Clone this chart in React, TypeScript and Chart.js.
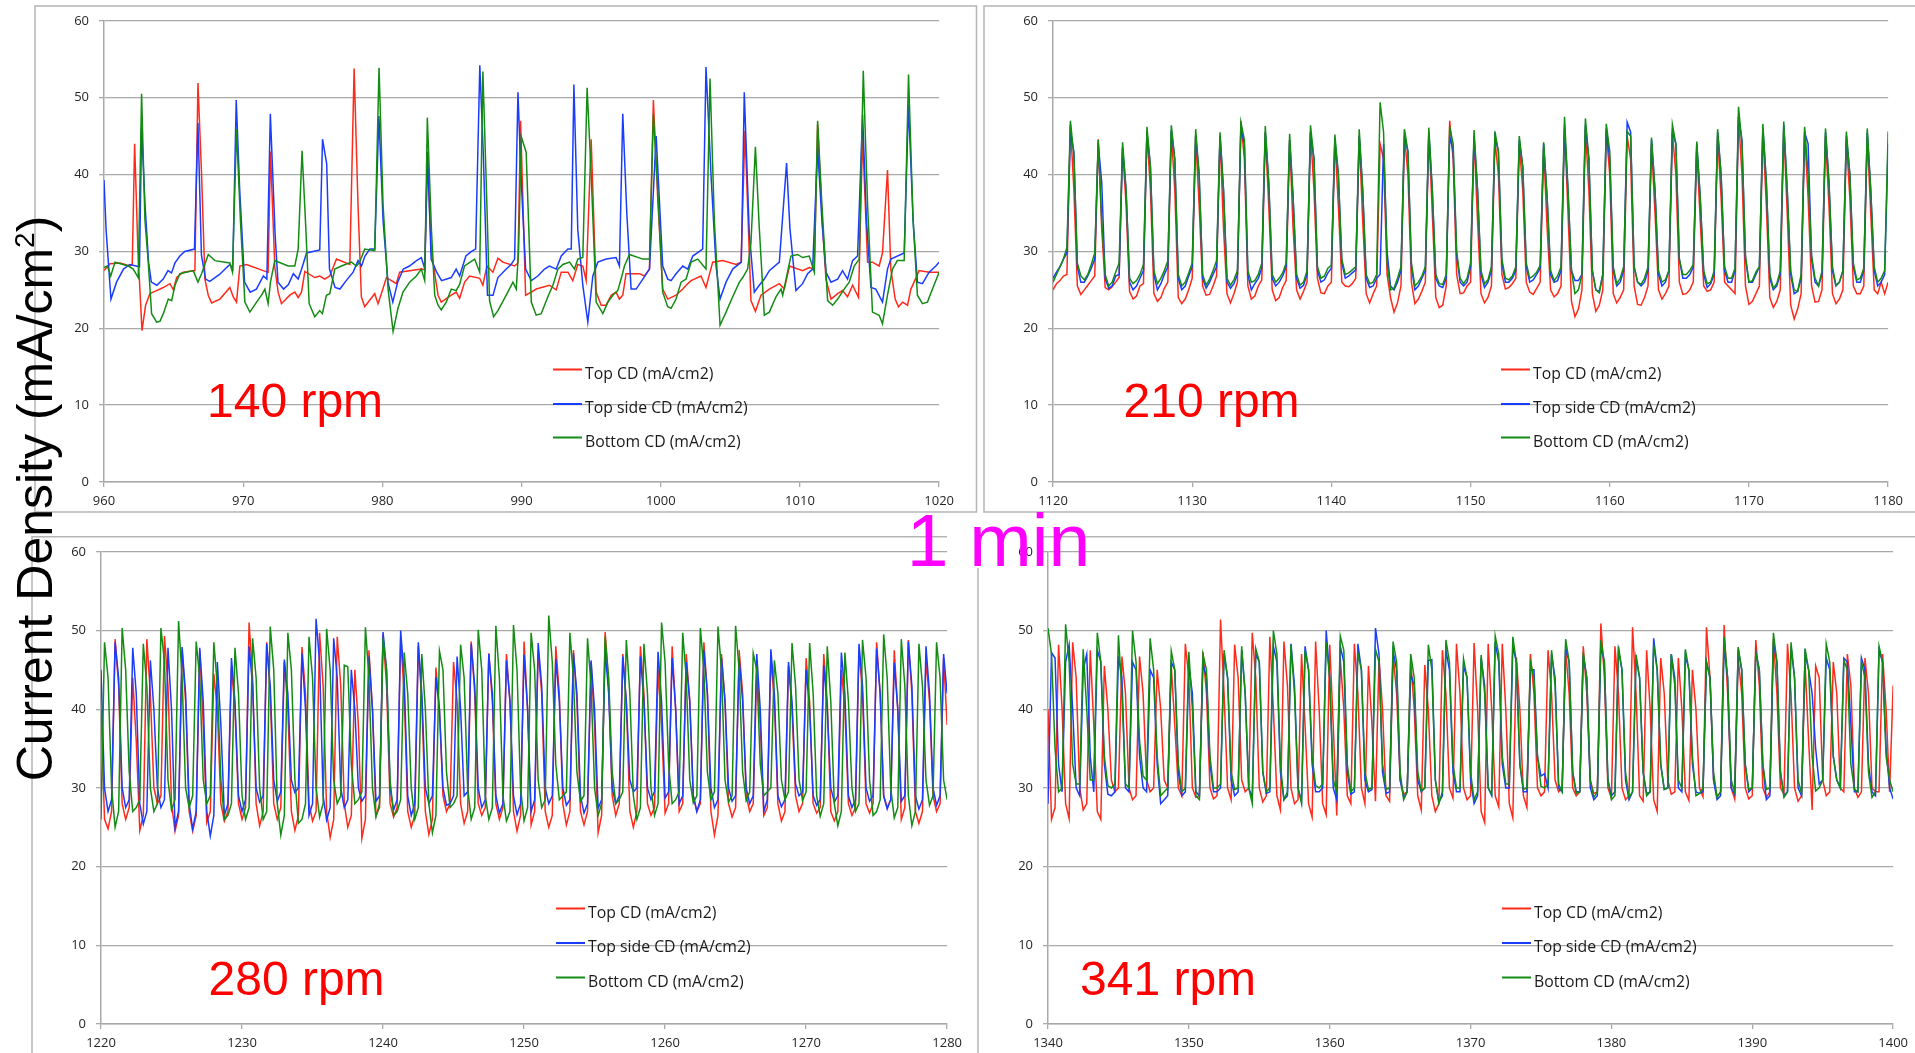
import React, { useEffect, useRef } from "react";
import { Chart, registerables } from "chart.js";

Chart.register(...registerables);
Chart.defaults.font.family = "'Open Sans', sans-serif";

// ------------------------------------------------------------------ data
const seriesNames = ["Top CD (mA/cm2)", "Top side CD (mA/cm2)", "Bottom CD (mA/cm2)"];
const speedLabels = ["140 rpm", "210 rpm", "280 rpm", "341 rpm"];
const timeRanges = [[960, 1020], [1120, 1180], [1220, 1280], [1340, 1400]];
const yRange = [0, 60];
const tickStep = 10;
const noteLabel = "1 min";
const yTitleMain = "Current Density (mA/cm";
const yTitleSup = "2";
const yTitleEnd = ")";

// Panel 1 (140 rpm): [time s, current density] vertices
const p1Top = [[960,27.5],[960.43,28.4],[961.15,28.5],[961.87,28.1],[962.03,28.3],[962.2,44],[962.44,30],[962.73,19.7],[962.99,23],[963.3,24.5],[963.78,24.9],[964.26,25.3],[964.74,25.8],[964.98,25],[965.22,26.6],[965.69,27.3],[966.53,27.5],[966.75,51.9],[967.01,40],[967.25,26.4],[967.49,24.3],[967.73,23.3],[968.33,23.8],[969.04,25.3],[969.28,24.1],[969.52,23.4],[969.76,28.1],[970.24,28.3],[971.44,27.5],[971.79,27.3],[971.96,43],[972.27,28],[972.51,24.7],[972.75,23.2],[973.35,24.3],[973.71,24.7],[973.95,24],[974.19,24.7],[974.43,27.4],[975.14,26.6],[975.5,26.8],[975.86,26.4],[976.22,26.8],[976.7,29],[977.66,28.3],[977.97,53.8],[978.25,36],[978.49,24.1],[978.73,22.8],[979.45,24.5],[979.69,23.2],[980,24.9],[980.29,26.6],[981,25.8],[981.24,27.3],[982.8,27.7],[983.04,27.6],[983.23,42],[983.52,30],[984,24.3],[984.23,23.4],[984.95,24.3],[985.31,24.7],[985.55,23.9],[985.91,26],[986.27,26.8],[986.99,26.5],[987.22,25.6],[987.51,28.1],[987.94,27.3],[988.3,29.1],[988.66,28.6],[989.5,28.1],[989.74,28.5],[989.93,47],[990.29,24.3],[990.7,24.7],[991.05,25.1],[992,25.6],[992.49,25],[992.85,27.3],[993.33,27.3],[993.68,26.2],[994.04,28.3],[994.4,28.1],[994.64,26.2],[995,44.6],[995.36,24.7],[995.72,23],[996.08,23],[996.44,24.3],[996.79,24.7],[997.03,23.8],[997.27,24.3],[997.51,27.1],[998.47,27.1],[998.83,26.8],[999.19,27.7],[999.47,49.7],[999.78,37],[1000.14,25.1],[1000.5,23.8],[1001.1,24.3],[1001.58,25.1],[1001.82,25.6],[1002.18,26.2],[1002.89,26.8],[1003.25,25.3],[1003.73,28.6],[1004.45,28.8],[1005.41,28.3],[1005.77,28.6],[1006.05,45.7],[1006.48,23.6],[1006.8,22.2],[1007.2,24.3],[1007.8,25.1],[1008.52,25.8],[1008.88,25.1],[1009.25,28.1],[1010.19,27.5],[1010.67,27.9],[1011.03,27.7],[1011.27,46.5],[1011.63,33],[1011.87,26.4],[1012.23,23.8],[1012.71,24.5],[1013.06,24.9],[1013.42,24.1],[1013.78,25.6],[1014.21,24],[1014.5,45],[1014.86,28.6],[1015.21,28.6],[1015.69,28.1],[1015.93,29.8],[1016.29,40.6],[1016.53,27.7],[1016.84,23.8],[1017.08,22.8],[1017.37,23.4],[1017.73,23],[1017.97,25.1],[1018.2,26],[1018.56,27.5],[1019.28,27.3],[1020,27.3]];
const p1Side = [[960,39.3],[960.15,32.8],[960.5,23.8],[960.9,26],[961.4,27.7],[961.85,28.3],[962.55,28],[962.7,46.1],[962.95,36],[963.2,28.6],[963.4,26],[963.8,25.6],[964.25,26.4],[964.6,27.5],[964.85,27.2],[965.1,28.5],[965.45,29.4],[965.8,30],[966.5,30.3],[966.75,46.7],[967,29.5],[967.3,26.4],[967.6,26.1],[968.3,27],[968.7,27.7],[969.05,28.3],[969.25,27.7],[969.5,49.7],[969.75,38],[970.1,26],[970.5,24.7],[970.95,25.1],[971.45,26.8],[971.7,26.4],[971.95,47.9],[972.3,32],[972.5,26],[972.9,25.1],[973.25,25.7],[973.6,27.1],[973.95,26.4],[974.2,27.7],[974.55,29.8],[975.5,30.2],[975.7,44.6],[976,41.4],[976.2,27.7],[976.6,25.3],[976.95,25.1],[977.4,26.2],[977.9,27.3],[978.25,28.8],[978.5,28.1],[978.75,29.4],[979.1,30.3],[979.45,30.3],[979.75,47.6],[980.05,34],[980.4,26],[980.75,23.4],[981.1,26],[981.5,27.7],[981.95,28.1],[982.45,28.8],[982.8,29.2],[983.05,27.7],[983.25,43],[983.5,29],[983.9,27.3],[984.25,26.2],[984.95,26.6],[985.3,27.7],[985.55,26.8],[986,29.4],[986.4,30],[986.7,30.3],[987,54.2],[987.25,42.7],[987.55,24.3],[987.95,24.3],[988.3,26.6],[988.9,27.7],[989.25,28.3],[989.5,29],[989.74,50.7],[989.98,39],[990.29,27.7],[990.7,26.2],[991.17,26.8],[991.65,27.7],[992,28.1],[992.49,27.7],[992.85,29.4],[993.33,30.3],[993.57,30.3],[993.76,51.7],[994.04,32.8],[994.4,25.6],[994.76,20.8],[995.12,26.8],[995.48,28.6],[996.08,29],[996.79,29.2],[997.03,28.1],[997.27,47.9],[997.56,35],[997.87,25.1],[998.23,25.1],[998.71,26.4],[999.19,27.7],[999.67,45],[1000.14,28.1],[1000.5,26.4],[1000.74,26.2],[1001.1,27.1],[1001.58,28.1],[1001.94,27.7],[1002.3,29.4],[1003.01,30.3],[1003.25,54],[1003.61,40],[1003.97,28.1],[1004.26,23.8],[1004.69,26],[1005.17,27.7],[1005.79,28.6],[1006,50.7],[1006.36,32.4],[1006.72,24.7],[1007.08,25.6],[1007.44,26.4],[1007.8,27.5],[1008.52,28.6],[1009.04,41.5],[1009.28,33],[1009.71,24.9],[1010.19,25.8],[1010.55,27.1],[1010.91,27.7],[1011.27,43.5],[1011.58,34],[1011.87,27.3],[1012.23,26],[1012.71,26.4],[1013.06,27.5],[1013.42,26.4],[1013.78,28.8],[1014.14,29.4],[1014.5,47.8],[1014.78,34],[1015.1,25.3],[1015.45,25.1],[1015.93,23.4],[1016.29,27.7],[1016.53,29],[1017.49,29.8],[1017.8,49.1],[1018.13,34],[1018.44,26],[1018.8,25.8],[1019.28,27.3],[1019.76,28.1],[1020,28.6]];
const p1Bottom = [[960,27.9],[960.24,28.1],[960.48,26.8],[960.79,28.6],[961.75,28.1],[962.1,27.7],[962.46,26.6],[962.7,50.5],[962.94,34.1],[963.18,28.6],[963.42,21.9],[963.78,20.8],[964.02,20.9],[964.26,21.9],[964.62,23.8],[964.86,23.6],[965.1,25.6],[965.45,27.1],[966.41,27.5],[966.75,26],[967.01,27.1],[967.49,29.6],[967.97,28.8],[969.04,28.5],[969.23,27.3],[969.52,45.9],[969.81,33.7],[970.12,23.4],[970.48,22.1],[970.96,23.4],[971.32,24.3],[971.56,25.1],[971.79,23.2],[971.96,26],[972.27,28.8],[973.23,28.1],[973.71,28.1],[973.95,30.3],[974.23,43.1],[974.5,33],[974.74,23.2],[975.14,21.5],[975.5,22.3],[975.69,21.9],[975.98,24.3],[976.22,24.5],[976.58,27.7],[977.06,28.1],[977.78,28.6],[978.13,28.1],[978.37,28.6],[978.73,30.3],[979.45,30.1],[979.76,53.9],[980.05,36],[980.41,25.1],[980.77,19.6],[981.12,22.6],[981.48,24.7],[981.96,26],[982.44,26.8],[982.8,27.7],[983.04,26.2],[983.23,47.4],[983.52,33],[983.76,24.3],[984,23],[984.23,22.4],[984.59,23.4],[984.95,25.1],[985.3,24.9],[985.55,25.7],[985.9,28.1],[986.63,29],[986.99,27.3],[987.22,53.4],[987.51,36],[987.7,23.6],[987.99,21.5],[988.3,22.3],[988.9,24.3],[989.38,26],[989.62,25.1],[989.78,30],[989.98,44.9],[990.33,42.9],[990.7,23.4],[991.05,21.7],[991.41,21.9],[991.89,24.1],[992.25,25.6],[992.61,27.7],[992.97,28.3],[993.45,28.6],[993.8,27.7],[994.04,29],[994.4,29.2],[994.71,51.3],[995,40],[995.36,23.4],[995.84,21.9],[996.2,23.4],[996.56,24.3],[996.91,24.9],[997.15,26.4],[997.39,28.1],[997.75,29.6],[998.71,29],[999.19,29],[999.47,47.8],[999.78,38],[1000.14,24.7],[1000.5,22.8],[1000.74,22.6],[1001.1,23.8],[1001.46,26],[1001.82,26.4],[1002.18,28.6],[1002.66,29],[1003.25,27.7],[1003.54,52.5],[1003.85,34],[1004.26,20.4],[1004.69,22.1],[1005.17,24.1],[1005.65,26],[1005.89,26.6],[1006.24,27.7],[1006.48,31.1],[1006.8,43.6],[1007.08,33],[1007.44,21.7],[1007.8,22.1],[1008.28,24.1],[1008.64,25.1],[1008.76,24.3],[1009.11,27.3],[1009.35,29.4],[1009.83,29.6],[1010.19,29.2],[1010.67,29.4],[1011.03,27.3],[1011.27,47],[1011.58,36],[1011.99,23.6],[1012.35,23],[1012.71,23.8],[1013.18,25.1],[1013.54,26],[1013.9,28.1],[1014.26,29],[1014.55,53.5],[1014.86,36],[1015.21,22.1],[1015.69,21.7],[1015.93,20.6],[1016.29,24.3],[1016.65,27.7],[1017,28.8],[1017.49,28.8],[1017.8,53],[1018.13,34],[1018.44,24.3],[1018.8,23.2],[1019.16,23.4],[1019.52,25.1],[1020,27.3]];

// Panels 2-4: values sampled evenly across the 60 s window (one value every ~0.25 s)
const p2Top = [25,25.8,26.2,26.8,27,
46.5,38,25.5,24.4,25,25.6,26.2,26.8,
44.6,33,25.3,25,25.4,26,26.6,
43.5,36,24.8,23.8,24.2,25.5,25.8,
45.5,38,24.5,23.5,24,25.2,26,
45.5,38,24,23.2,23.8,25,26.5,
45,36,25.5,24.3,24.4,25.5,26.8,
45,33,24.5,23.3,24.5,26,
47,42,25.5,23.8,24.2,25.5,26.3,
45.5,36,25,23.6,24,25.3,26.2,
44.5,33,25,23.8,24.8,26,
45.5,38,26.5,24.6,24.5,25.5,26,
44.5,36,26,25.5,25.4,25.8,26.5,
45,34,24.5,23.3,24.5,25.5,
44,42,27,24,22.1,23.3,25.5,
45,40,26,23.2,23.8,24.8,26,
45.5,35,24,22.7,23,25.5,
47,42,27,24.5,24.6,25.5,26,
45,34,24.5,23.3,24,25.5,
44.5,40,27,25.1,25.3,25.8,26.5,
44,38,26,24.7,24.4,25.2,26,
43.5,33,25,24.1,24.5,25.5,
46.5,35,23.5,21.5,22.5,25,
46,38,24.5,22.2,23,25,
45.5,40,24.5,23.3,24,25,
45,42,25.5,23.1,23,24,25.5,
44,35,25,23.8,24.5,25.5,
45.5,40,26,24.4,24.5,25,26,
43.5,34,25.5,24.8,25,26,
45,37,26,25.5,25,24.5,
47.5,40,25.5,23.1,23.5,24.5,25.5,
45.5,36,24,22.7,23.5,25,
46,35,23,21.2,22.5,24.5,
45.5,37,25.5,23.4,23.5,25,
45,36,24.5,23.2,23.8,25,
44.5,37,25.5,24.5,24.5,25.5,
45,35,25,24.5,26,24.5,
26];
const p2Side = [26.5,27.3,28,29,29.8,
45.5,43,28,26,26,26.8,27.8,29,
44,39,26.5,25.2,25.5,26.8,27,
43.5,38,26,25,25.5,26.5,27.5,
45.5,41,27,25,25.8,27,28,
45.8,42,26.5,25,25.5,26.8,28,
45,40,26.5,25.2,26,27,28,
45,38,26,25.2,25.8,27,
46,44,27,25,25.8,26.5,27.8,
45.5,39,26.5,25.5,26,26.8,28,
44.5,37,26.5,25.2,25.6,27,
45.5,42,27.5,26,26.3,27.2,27.8,
44.5,40,28.5,26.5,26.8,27.2,27.6,
45,38,26.5,25.3,25.5,26.5,
27,44,30,25.5,25,26,27.5,
45,43,28,25,25.5,26.5,27.5,
45.5,38,26.5,25.5,25.3,26.5,
45,43,29.5,26,25.5,26,28,
45,38,27,25.3,26,27.5,
45,43,28.5,26,26,26.5,27.5,
44.5,41,28,26,26.3,27,27.8,
44,37,27,26,26.2,27.5,
46,38,27.5,26.2,26.2,27,
46.5,42,27.5,25,24.8,27,
46,42,27.5,25.5,26,27.5,
46.8,45.5,28,26,25.5,26,27.5,
44.5,38,27,25.5,26,27.5,
45.5,44,29,26.5,26.5,27,28,
44,37,27,25.3,25.8,27,
45.5,40,27.5,26,26,27.5,
47.5,44.5,29,26,26,27,28,
46,39,26.5,25,25.5,27,
46.5,38,27,24.5,24.8,26.5,
45.5,44,29,26,25.5,27,
45.5,39,27.5,25.5,26,27.5,
45,40,28,26,26,27.5,
45.5,38,27.5,25.5,26,27,
44];
const p2Bottom = [26,27,28,29,30.5,
47,42.5,28.5,26.8,26.3,27,28.3,29.8,
44.5,34,27,25.5,26,27.3,28.5,
44.2,38,26.5,25.8,26.2,27,28.3,
46.2,41,27.5,25.8,26.5,27.5,28.8,
46.4,42,27,25.5,26,27.2,28.5,
45.9,40,27,25.6,26.4,27.5,28.8,
45.5,38,26.5,25.6,26.3,27.5,
46.8,44.5,27.5,26,26.2,27,28.5,
46.3,39,27,26,26.5,27.2,28.5,
45.3,37,27,25.6,26,27.5,
46.4,42,28,26.5,26.8,27.8,28.2,
45.2,40,29,27,27.2,27.6,28,
45.9,38,27,25.8,26,27,
49.4,45.5,28.5,25,25.2,26.5,28,
45.9,43,28.5,25.5,26,26.8,28,
46.1,38,27,25.8,25.7,27,
46.2,44,30,26.5,25.8,26.5,28.5,
45.8,38,27.5,25.8,26.3,28,
45.6,43,29,26.5,26.3,26.8,28,
45,41,28.5,26.5,26.8,27.3,28.2,
44.2,37,27.5,26.2,26.8,28,
47.5,38,27.5,24.5,25,27,
47.3,42,27.5,25,24.6,27,
46.6,43,28,25.8,26.5,28,
45.6,45,28,26,25.7,26.5,28,
44.8,38,27.5,26,26.3,27.5,
46.5,44,29,27,27,27.5,28.3,
44.3,37,27.5,25.8,26,27.5,
45.9,40,28,26.5,26.5,27.8,
48.8,44,29.5,26,26.2,27.3,28,
46.6,39,27,25.2,25.8,27.5,
46.9,38,27.5,25,24.8,27,
46.2,40,29.5,26.5,25.5,27.5,
46,39,28,25.6,26,27.5,
45.6,40,28.5,26.3,26.5,27.8,
46,38,28,26,26.5,27.5,
45.6];

const p3Top = [40,26,24.8,27,
48.9,43,28,26,27.5,
44,36,24.6,26.5,
48.9,42,30,28,29,
49.3,43,28,24.5,26.5,
47.5,41,27,24.5,26.5,
47.5,38,25.6,27,
44.5,40,28,25.8,27,
45.3,40,28,26,27.5,
51,44,28,25.2,27,
48.5,42,28,26,27.5,
46,40,27,24.6,26.5,
47.9,42,28,25.8,27,
49.7,43,27,23.7,26,
49.2,43,28,25,26.5,
45,38,23.6,26,
47.5,40,26.5,27.5,
49.5,43,28,26.3,27.5,
49,42,27,25,26.5,
48,41,27,24.1,26,
45.3,40,29,27,28,
46,41,28,25.5,27,
48.6,42,28,26.5,27.5,
47.1,41,28,26,27.5,
47,41,27,24.5,26.5,
48.6,40,25.3,27,
47.5,42,27,25,26.5,
48,42,28,25.3,27,
47.5,41,27,25.3,27,
46,38,24.3,26.5,
49.8,43,29,26.5,28,
47,41,27,25,27,
48,42,28,26.5,27.5,
45,38,26.8,28,
48,40,27,28,
47,41,29,27,28,
48.5,42,27,24,26.5,
47,41,28,26.3,27.5,
47.5,42,29,27,28,
45,38,26.5,27.5,
46.5,41,28,25.8,27,
45.5,40,29,27,28,
46.5,41,28,26.8,27.5,
47,41,27,25.8,27,
45,40,28,26.5,27.5,
47.5,42,28,26.8,28,
48.5,42,29,27.5,28.5,
47.5,40,26,27.5,
48.8,42,27,25.5,27,
46.5,41,29,27,28,
46.5,38];
const p3Side = [45,30,27,28.5,
48.5,44,30,27.5,28.5,
47.8,42,28,25.4,27,
46.2,40,30,27.5,28.5,
47.8,40,25,27,
47.9,42,28,24.8,27,
47.8,41,27,23.9,26.5,
46,38,26.5,28,
46.5,41,29,27,28.5,
48,43,30,28.2,29,
48.3,43,31,28.3,29.5,
46.3,42,31,29.4,30,
47.1,40,26.5,28,
51.5,46,29,25.9,27.5,
49,44,30,27.5,28.5,
45,40,30,28.3,29,
46.7,40,28.3,29,
49.8,45,30,27.2,28.5,
50,44,29,26.5,28,
48.5,42,30,28,29,
44.1,40,30,27.8,28,29,
46.7,40,29,29.5,
48.3,43,30,27.5,28.5,
47,42,29,26.8,28,
46.2,41,29,26.6,28,
46.9,40,27,28.5,
48.4,43,30,28,29,
46.4,41,30,27.8,28.5,
47.1,42,29,26.8,28,
46.2,40,27.4,28.5,
47.5,42,30,28,29,
46.7,41,31,29.5,30,
46.7,41,30,28.5,29.5,
47.3,41,28.7,29.5,
46.5,40,28,29,
46,41,29,27,28.5,
47.5,42,30,27.5,28.5,
46.5,41,30,28.3,29,
46.4,41,30,28,29,
47,40,27,28.5,
47.6,42,29,27.6,28.5,
46,41,30.5,29,29.5,
45,40,29,27.8,28.5,
45.6,40,30,28.2,29,
47.2,42,29,27.5,28.5,
48.3,43,30,28.3,29,
47.7,42,29,27.3,28.5,
45.9,40,28.3,29,
48.6,43,29,27.3,28.5,
48,42,30,27.8,29,
47,42];
const p3Bottom = [26,
48.5,44,30,25,27,
50.3,45,32,27,27.5,28.5,
48.3,43,30,27,28,
50.3,46,31,27.2,28.5,
51.2,44,30,27.5,29,
48.6,44,31,28,29,
48.5,43,31,26,26.5,28,
47.8,42,29,26,27.5,
49,44,30,26,27,
50.5,45,28,24,26.5,
49.7,45,31,25.5,26,28,
49.2,44,30,26.3,28,
50.2,45,31,28,29,
45.6,45.4,33,28,28.5,29.5,
50.4,44,30,26.3,28,
49,45,31,26.5,27,28.5,
47.2,42,30,26,27.5,
47,40,28,24.3,26.5,
47.4,45,32,27.5,28,29,
48.2,44,30,26,27.5,
50.1,45,29,26,27.5,
50.6,44,29,25.8,27,
50.7,45,30,25.8,27.5,
49.7,45,31,27.5,28.5,
51.9,46,33,28.5,29,29.5,
49.7,44,32,28.3,29,
49,43,30,26.5,28,
49.2,44,32,28,28.5,29.5,
48.8,42,29,26,27.5,
48.3,42,30,26.5,28,
51,46,33,28,28.5,29.5,
49.7,44,31,28.1,29,
50.3,45,32,28.5,29.5,
50.5,45,31,28.2,29,
50.6,45,32,28.4,29.5,
47.1,45,33,29,29.5,30,
46.2,42,31,28.5,29.5,
48.4,43,31,28.4,29.5,
48.4,42,29,26.4,28,
48,41,28,25.2,27,
47.2,41,30,27,28,
48.8,44,31,26.5,27,28.5,
49.5,44,30,26.2,27.5,
48.9,43,29,25.2,27,
48.3,43,31,27.8,29,
48.5,44,31,28.5];

const p4Top = [40,26,27.5,
48.2,40,28,26.1,
48.5,44,30,27.2,28,
47.5,38,27,26,
45.5,40,31,29.5,30,
46.7,42,30,28.5,29,
46.7,42,31,29.5,30,
45,40,31,30,
45.5,38,30,29,
48.3,44,30,28.8,29,
47.3,42,30,28.6,29,
51.4,42,30,28.5,
48.2,44,31,29.5,30,
49.7,44,30,28.2,29,
49.2,40,29,27.2,
48.6,43,30,28,28.5,
47,38,28,26.3,
48.6,40,28,26.6,
48.2,38,26.5,
46.5,40,29,28,
48.3,42,30,28,
45.5,38,28.3,
46.5,40,29,28.3,
47,42,31,29.2,29.5,
46.2,40,29,27.2,
45.6,40,29,27,28,
47.5,42,30,28.7,
48.3,42,30,28.5,29,
48.4,40,27,25.6,
48.3,40,29,27.6,
48.3,40,28,26.2,
46.6,40,29,27.5,
47,42,30,29,29.5,
47.5,42,31,29.5,30,
47.5,42,30,29,29.5,
48,42,31,29.3,29.5,
50.9,44,30,28.7,
48,42,30,28.5,29,
50.4,42,29,28.3,
47.5,40,28.5,27,
46.5,42,31,29.2,29.5,
46.5,40,29.5,28.4,
45,40,30,28.9,
50.4,44,31,28.9,29.5,
50.7,42,30,28.6,
46.5,42,30,28.6,29,
48.8,43,30,28.8,29.5,
48.9,42,30,29.2,
48.3,42,30,28.3,29,
45.8,36,27.2,
45.5,44,31,29,29.5,
46,42,30,29.5,
47,43,30,28.8,29.5,
46.5,42,30,29.5,29.5,
47,40,29.5,43];
const p4Side = [28,47.2,46.5,33,29.5,
46,48.2,40,30,29,
45,47,34,29.5,
47.5,46,33,29.2,29,29.5,
46.7,44,30,29.5,
46,45,34,30,29.5,
45,44,33,28,28.5,29,
46,45,32,29,29.5,
45.5,42,29.5,29,
45.8,44,33,29.5,29.5,30,
47,44,31,29,29.5,
47.5,42,30,28.8,
47,46,32,29.3,29.5,
48,46,32,28.5,29,
48.3,43,30,28.3,
48,45,33,29.5,29.5,30,
50,44,30,28.5,
48,46,32,29.2,29.5,
48.3,45,31,29.5,29.8,
50.3,47,32,29.3,29.5,
47.3,45,31,28.8,29.5,
44.5,43,31,29.5,30,
46.2,46.3,31,28.2,29,
47.5,45,32,29.5,29.5,
45.5,44,31,28,29,
46.5,43,30,29,
48.5,46,33,30,30,
48,46,33,29.5,29.5,
45,45,34,31.5,31.8,30,
47,44,30,29.5,
47.8,46,32,29.5,29.5,
46.8,44,30,28.5,29,
48,46,31,29,29.5,
47.5,45,31,28.5,29.5,
46.5,44,32,29.3,29.5,
49,45,33,29.8,30,
47,44,30,29.5,
46.8,45,33,29.5,29.3,29.5,
46,44,31,28.5,29,
48,44,30,29.2,
47.6,45,33,29.5,30,
47.3,45,33,28.5,29,
48.5,46,32,29,29.5,
48,44,30,29,
47,45,42,35,30.5,31,
46.5,45,34,31,30,
46.5,46,38,29.5,29.5,
46.5,45,33,29.5,29,
47.5,46,35,30,28.6];
const p4Bottom = [50.3,47,35,29.5,30,
50.8,46,33,30.5,30.5,
47.6,40,31,31,
49.7,46,34,30.3,30,30.5,
49.4,42,30.5,30,
50,46,36,31.5,31,
49,45,34,29,29.5,30,
47.4,45,33,29.5,30,
47.3,40,29,28.5,
47,45,34,30,30,30.5,
47.5,44,32,29.8,30,
48,42,30,28,
47.7,46,32,29.5,30,
50,47,33,28.5,29.5,
48.2,42,30,28,
47.5,45,34,30.3,30,30.5,
48.5,44,31,29.5,
49.3,47.5,33,29.5,30,
47.1,45,32,29.8,30,
47.6,46,33,29.8,30,
48.6,46,32,28.5,29.5,
47,44,32,29.6,30,
48.2,45,31,28,29.5,
48.8,46,33,30,30,
46.4,44,32,28.5,29.5,
46.9,42,30,29.2,
49.3,47,34,30.5,30.5,
49.2,46,33,29.8,30,
46,44,34,30.2,30,30.5,
47.5,43,30.5,29.5,
48.9,46,32,29.3,29.5,
47.2,44,31,28.8,29.5,
48.8,46,31,28.5,29,
48,45,32,28.8,29.5,
46.9,44,32,29,29.5,
48.2,45,33,29.8,30,
47,43,31,30,
47.6,45,34,29,29.3,30,
46,44,32,28.8,29.5,
49.2,44,31,29.5,
47.9,45,33,29.8,30,
47.2,45,33,29.8,30,
49.7,46,32,28.8,29.5,
48.5,44,31,29.3,
47.7,45,34,29.6,30,31,
48.3,46,34,31,30,
46.2,45,33,29.8,29.5,
46,44,32,28.8,29.5,
48,46,34,31,29.5];

// ------------------------------------------------------------------ styles / layout
const SERIES_COLORS = ["#ff2a1a", "#1a3cff", "#138c13"];
const GRID = "#a9a9a9";
const BORDER = "#b5b5b5";
const AX_W = 75;
const AX_H = 30;
const PAD_T = 12;
const PAD_R = 20;

const AREAS = [
  { l: 104, t: 15, r: 940, b: 482 },
  { l: 1053, t: 15, r: 1889, b: 482 },
  { l: 101, t: 546, r: 948, b: 1024 },
  { l: 1048, t: 546, r: 1894, b: 1024 },
];
const LEGENDS = [
  { x1: 553, x2: 582, tx: 585, ys: [369.5, 404, 437.5] },
  { x1: 1501, x2: 1530, tx: 1533, ys: [369.5, 404, 437.5] },
  { x1: 556, x2: 585, tx: 588, ys: [908.5, 943, 977.5] },
  { x1: 1502, x2: 1531, tx: 1534, ys: [908.5, 943, 977.5] },
];
const RPM_POS = [
  { x: 207, y: 417 },
  { x: 1123.5, y: 417 },
  { x: 208.5, y: 995 },
  { x: 1080, y: 995 },
];

function pairsToPoints(arr) {
  return arr.map((p) => ({ x: p[0], y: p[1] }));
}
function evenToPoints(vals, range) {
  const span = range[1] - range[0];
  const n = vals.length - 1;
  return vals.map((v, i) => ({ x: range[0] + (span * i) / n, y: v }));
}

const PANEL_SERIES = [
  [pairsToPoints(p1Top), pairsToPoints(p1Side), pairsToPoints(p1Bottom)],
  [evenToPoints(p2Top, timeRanges[1]), evenToPoints(p2Side, timeRanges[1]), evenToPoints(p2Bottom, timeRanges[1])],
  [evenToPoints(p3Top, timeRanges[2]), evenToPoints(p3Side, timeRanges[2]), evenToPoints(p3Bottom, timeRanges[2])],
  [evenToPoints(p4Top, timeRanges[3]), evenToPoints(p4Side, timeRanges[3]), evenToPoints(p4Bottom, timeRanges[3])],
];

function PanelChart({ idx }) {
  const ref = useRef(null);
  const a = AREAS[idx];
  const left = a.l - AX_W;
  const top = a.t - PAD_T;
  const width = a.r - a.l + AX_W + PAD_R;
  const height = a.b - a.t + PAD_T + AX_H;

  useEffect(() => {
    const range = timeRanges[idx];
    const tickFont = { family: "'Open Sans', sans-serif", size: 13 };
    const chart = new Chart(ref.current, {
      type: "line",
      data: {
        datasets: PANEL_SERIES[idx].map((pts, k) => ({
          label: seriesNames[k],
          data: pts,
          borderColor: SERIES_COLORS[k],
          backgroundColor: SERIES_COLORS[k],
          borderWidth: 1.5,
          pointRadius: 0,
          tension: 0,
          fill: false,
          order: 3 - k,
        })),
      },
      options: {
        responsive: false,
        animation: false,
        devicePixelRatio: 1,
        events: [],
        layout: { padding: { left: 0, top: PAD_T, right: PAD_R, bottom: 0 } },
        plugins: { legend: { display: false }, tooltip: { enabled: false } },
        scales: {
          x: {
            type: "linear",
            min: range[0],
            max: range[1],
            afterFit: (s) => { s.height = AX_H; },
            ticks: {
              stepSize: tickStep,
              color: "#262626",
              font: tickFont,
              padding: 6,
              maxRotation: 0,
              autoSkip: false,
              callback: (v) => String(v),
            },
            grid: { drawOnChartArea: false, drawTicks: true, tickLength: 5, color: GRID, lineWidth: 1.3 },
            border: { display: true, color: GRID, width: 1.5 },
          },
          y: {
            type: "linear",
            min: yRange[0],
            max: yRange[1],
            afterFit: (s) => { s.width = AX_W; },
            ticks: {
              stepSize: tickStep,
              color: "#262626",
              font: tickFont,
              padding: 10,
              callback: (v) => String(v),
            },
            grid: { color: GRID, lineWidth: 1.3, tickLength: 5, drawTicks: true },
            border: { display: true, color: GRID, width: 1.5 },
          },
        },
      },
    });
    return () => chart.destroy();
  }, [idx]);

  return (
    <canvas
      ref={ref}
      width={width}
      height={height}
      style={{ position: "absolute", left, top, width, height }}
    />
  );
}

export default function App() {
  const bigFont = "'Liberation Sans', Arial, Helvetica, sans-serif";
  return (
    <div
      style={{
        position: "fixed",
        left: 0,
        top: 0,
        width: 1915,
        height: 1053,
        overflow: "hidden",
        background: "#ffffff",
      }}
    >
      {[0, 1, 2, 3].map((i) => (
        <PanelChart key={i} idx={i} />
      ))}
      <svg
        width={1915}
        height={1053}
        style={{ position: "absolute", left: 0, top: 0, pointerEvents: "none" }}
      >
        <g stroke={BORDER} strokeWidth={1.5} fill="none">
          <polyline points="35,512 35,6 976.5,6 976.5,512 35,512" />
          <polyline points="1917,6 984,6 984,512 1917,512" />
          <polyline points="947,536.7 32,536.7 32,1056" />
          <polyline points="1917,536.7 1041,536.7" />
          <polyline points="978,568 978,1056" />
        </g>
        {LEGENDS.map((lg, p) => (
          <g key={"lg" + p}>
            {seriesNames.map((name, k) => (
              <g key={k}>
                <line x1={lg.x1} y1={lg.ys[k]} x2={lg.x2} y2={lg.ys[k]} stroke={SERIES_COLORS[k]} strokeWidth={2} />
                <text
                  x={lg.tx}
                  y={lg.ys[k] + 9}
                  fontFamily="'Open Sans', sans-serif"
                  fontSize={15.8}
                  fill="#1a1a1a"
                >
                  {name}
                </text>
              </g>
            ))}
          </g>
        ))}
        {speedLabels.map((s, i) => (
          <text key={"rpm" + i} x={RPM_POS[i].x} y={RPM_POS[i].y} fontFamily={bigFont} fontSize={48} fill="#ff0000">
            {s}
          </text>
        ))}
        <text
          transform="translate(52,498.5) rotate(-90)"
          textAnchor="middle"
          fontFamily={bigFont}
          fontSize={50}
          fill="#000000"
        >
          {yTitleMain}
          <tspan fontSize={28} dy={-18}>{yTitleSup}</tspan>
          <tspan dy={18}>{yTitleEnd}</tspan>
        </text>
        <text x={998.5} y={566} textAnchor="middle" fontFamily={bigFont} fontSize={75} fill="#ff00ff">
          {noteLabel}
        </text>
      </svg>
    </div>
  );
}
